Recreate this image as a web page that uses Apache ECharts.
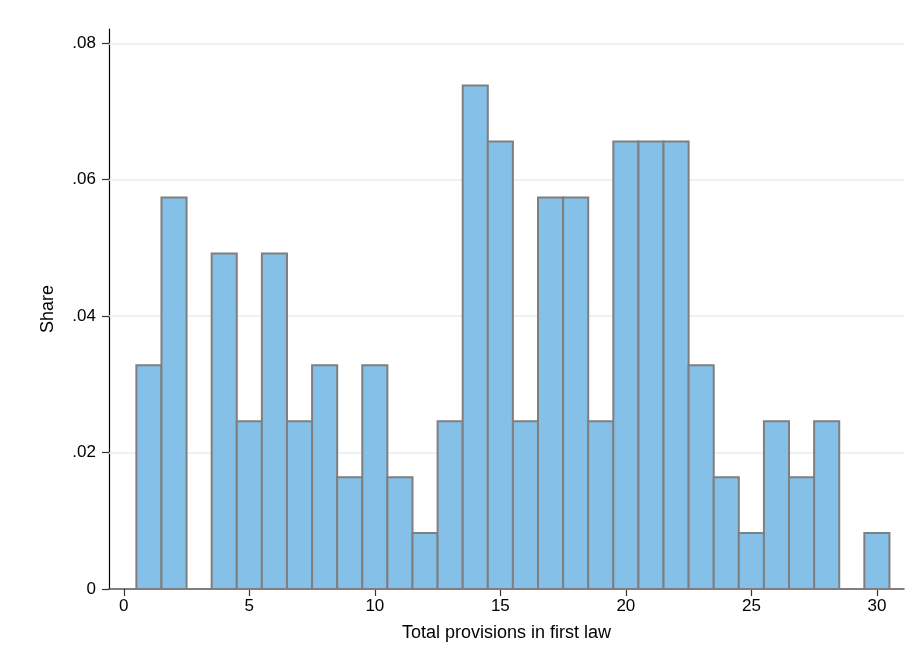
<!DOCTYPE html>
<html>
<head>
<meta charset="utf-8">
<script src="https://cdn.jsdelivr.net/npm/echarts@6/dist/echarts.min.js"></script>
<style>
  html, body { margin: 0; padding: 0; background: #fff; }
  #chart { width: 912px; height: 666px; }
</style>
</head>
<body>
<div id="chart"></div>
<script>
// Number of provisions in the first law (bin centres)
const provisions = [1, 2, 3, 4, 5, 6, 7, 8, 9, 10, 11, 12, 13, 14, 15,
                    16, 17, 18, 19, 20, 21, 22, 23, 24, 25, 26, 27, 28, 29, 30];
// Share of laws in each bin
const shares = [0.0328, 0.0574, 0, 0.0492, 0.0246, 0.0492, 0.0246, 0.0328, 0.0164, 0.0328,
                0.0164, 0.0082, 0.0246, 0.0738, 0.0656, 0.0246, 0.0574, 0.0574, 0.0246, 0.0656,
                0.0656, 0.0656, 0.0328, 0.0164, 0.0082, 0.0246, 0.0164, 0.0246, 0, 0.0082];
const xTicks = [0, 5, 10, 15, 20, 25, 30];
const yTicks = [0, 0.02, 0.04, 0.06, 0.08];

const binWidth = 1;
const data = provisions.map((p, i) => [p, shares[i]]);

const chart = echarts.init(document.getElementById('chart'), null, { renderer: 'canvas' });

const fontFamily = '"Liberation Sans", Arial, sans-serif';

chart.setOption({
  animation: false,
  backgroundColor: '#ffffff',
  grid: { left: 109, right: 8, top: 29, bottom: 77, containLabel: false },
  xAxis: {
    type: 'value',
    min: -0.59,
    max: 31.08,
    interval: 5,
    name: 'Total provisions in first law',
    nameLocation: 'middle',
    nameGap: 35,
    nameTextStyle: { color: '#000', fontSize: 18, fontFamily },
    axisLine: { show: true, onZero: false, lineStyle: { color: '#555', width: 1.5 } },
    axisTick: { show: true, length: 7, lineStyle: { color: '#333', width: 1.2 },
                customValues: xTicks },
    axisLabel: { color: '#000', fontSize: 17, fontFamily, margin: 9,
                 customValues: xTicks, formatter: v => String(v) },
    splitLine: { show: false }
  },
  yAxis: {
    type: 'value',
    min: 0,
    max: 0.0821,
    name: 'Share',
    nameLocation: 'middle',
    nameGap: 52,
    nameRotate: 90,
    nameTextStyle: { color: '#000', fontSize: 18, fontFamily },
    axisLine: { show: true, onZero: false, lineStyle: { color: '#000', width: 1.2 } },
    axisTick: { show: true, length: 7, lineStyle: { color: '#333', width: 1.2 },
                customValues: yTicks },
    axisLabel: { color: '#000', fontSize: 17, fontFamily, margin: 13,
                 customValues: yTicks,
                 formatter: v => v === 0 ? '0' : v.toFixed(2).replace(/^0/, '') },
    splitLine: { show: false }
  },
  series: [
    {
      // light horizontal reference lines at the labelled shares
      type: 'line',
      data: [],
      z: 1,
      markLine: {
        silent: true,
        symbol: 'none',
        z: 1,
        label: { show: false },
        lineStyle: { color: '#e8eef2', width: 1.5, type: 'solid' },
        data: yTicks.filter(v => v > 0).map(v => ({ yAxis: v }))
      }
    },
    {
      type: 'custom',
      data: data,
      encode: { x: 0, y: 1 },
      renderItem: function (params, api) {
        const x = api.value(0);
        const y = api.value(1);
        if (!(y > 0)) return null;
        const p0 = api.coord([x - binWidth / 2, 0]);
        const p1 = api.coord([x + binWidth / 2, y]);
        return {
          type: 'rect',
          shape: { x: p0[0], y: p1[1], width: p1[0] - p0[0], height: p0[1] - p1[1] },
          style: { fill: '#85c0e9', stroke: '#7f7f7f', lineWidth: 2 }
        };
      },
      z: 10
    }
  ]
});
</script>
</body>
</html>
